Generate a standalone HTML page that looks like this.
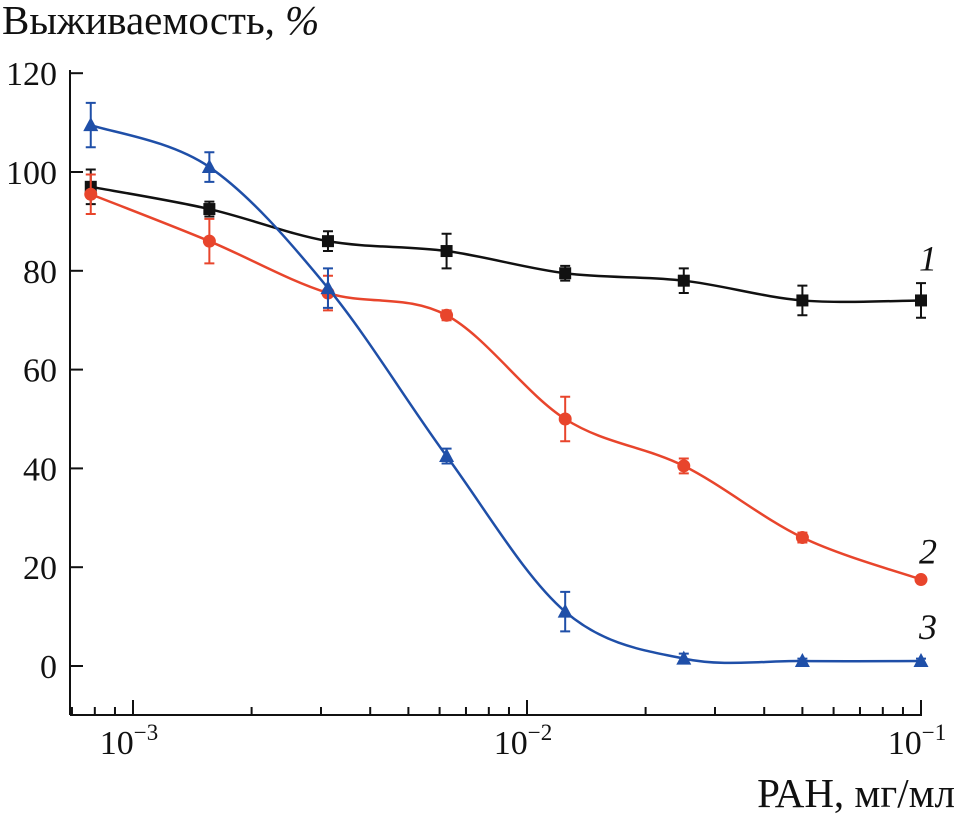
<!DOCTYPE html>
<html><head><meta charset="utf-8"><style>
html,body{margin:0;padding:0;background:#fff}
svg{display:block}
text{font-family:"Liberation Serif",serif;fill:#111}
</style></head><body>
<svg id="chart" width="957" height="815" viewBox="0 0 957 815" xmlns="http://www.w3.org/2000/svg">
<text x="2" y="34" font-size="41">Выживаемость, <tspan font-style="italic">%</tspan></text>
<text x="955" y="807" font-size="41" text-anchor="end">РАН, мг/мл</text>
<g id="axes"></g>
<g id="series"></g>
</svg>
<script>
const concentrations=[0.00078125,0.0015625,0.003125,0.00625,0.0125,0.025,0.05,0.1];
const series1=[97,92.5,86,84,79.5,78,74,74];
const err1=[3.5,1.5,2,3.5,1.5,2.5,3,3.5];
const series2=[95.5,86,75.5,71,50,40.5,26,17.5];
const err2=[4,4.5,3.5,1,4.5,1.5,1,0.5];
const series3=[109.5,101,76.5,42.5,11,1.5,1,1];
const err3=[4.5,3,4,1.5,4,1,0.5,0.5];
const yTicks=[0,20,40,60,80,100,120];
const xDecades=[-3,-2,-1];
const seriesLabels=["1","2","3"];

const NS="http://www.w3.org/2000/svg";
const X=v=>133+394*(Math.log10(v)+3);
const Y=v=>666-v*4.94;
function mk(tag,attrs,parent){const e=document.createElementNS(NS,tag);for(const k in attrs)e.setAttribute(k,attrs[k]);parent.appendChild(e);return e;}
const axes=document.getElementById('axes'), sg=document.getElementById('series');
const xl=mk('line',{x1:70,y1:715,x2:922,y2:715,stroke:'#111','stroke-width':2},axes);


const yl=mk('line',{x1:70,y1:70,x2:70,y2:715,stroke:'#111','stroke-width':2},axes);


yTicks.forEach(t=>{
  mk('line',{x1:70,y1:Y(t),x2:83,y2:Y(t),stroke:'#111','stroke-width':2},axes);
  const tx=mk('text',{x:57,y:Y(t)+12,'font-size':34,'text-anchor':'end'},axes);
  tx.textContent=t;
  
  
});
for(let d=-4;d<=-1;d++){for(let m=1;m<10;m++){const v=m*Math.pow(10,d);const x=X(v);if(x<70||x>922)continue;
  const major=m===1;mk('line',{x1:x,y1:715,x2:x,y2:major?700:707,stroke:'#111','stroke-width':2},axes);}}
xDecades.forEach(d=>{
  const tx=mk('text',{x:X(Math.pow(10,d))-4,y:754,'font-size':34,'text-anchor':'middle'},axes);
  tx.innerHTML='10<tspan dy="-14" font-size="23">−'+(-d)+'</tspan>';
  
  
});
function curve(pts){
  let d='M'+pts[0][0]+','+pts[0][1];
  for(let i=0;i<pts.length-1;i++){
    const p0=pts[Math.max(0,i-1)],p1=pts[i],p2=pts[i+1],p3=pts[Math.min(pts.length-1,i+2)];
    const c1=[p1[0]+(p2[0]-p0[0])/6,p1[1]+(p2[1]-p0[1])/6];
    const c2=[p2[0]-(p3[0]-p1[0])/6,p2[1]-(p3[1]-p1[1])/6];
    d+=' C'+c1+' '+c2+' '+p2;
  }return d;
}
const defs=[[series1,err1,'#111','square','series-1'],[series2,err2,'#e8452c','circle','series-2'],[series3,err3,'#1f4fa8','triangle','series-3']];
defs.forEach(([vals,errs,col,shape,name],si)=>{
  const g=mk('g',{},sg);
  
  
  const pts=concentrations.map((c,i)=>[X(c),Y(vals[i])]);
  mk('path',{d:curve(pts),fill:'none',stroke:col,'stroke-width':2.5},g);
  pts.forEach(([x,y],i)=>{
    const e=errs[i]*4.94;
    mk('path',{d:`M${x},${y-e}V${y+e}M${x-5},${y-e}H${x+5}M${x-5},${y+e}H${x+5}`,stroke:col,'stroke-width':2,fill:'none'},g);
    let m;
    if(shape==='square')m=mk('rect',{x:x-6,y:y-6,width:12,height:12,fill:col},g);
    else if(shape==='circle')m=mk('circle',{cx:x,cy:y,r:6.5,fill:col},g);
    else m=mk('path',{d:`M${x},${y-8}L${x+7.5},${y+6}L${x-7.5},${y+6}Z`,fill:col},g);
    
    
  });
  const lab=mk('text',{x:928,y:Y(vals[vals.length-1])+[-42,-28,-34][si]+12,'font-size':36,'font-style':'italic','text-anchor':'middle'},g);
  lab.textContent=seriesLabels[si];
  
  
});
</script>
</body></html>
